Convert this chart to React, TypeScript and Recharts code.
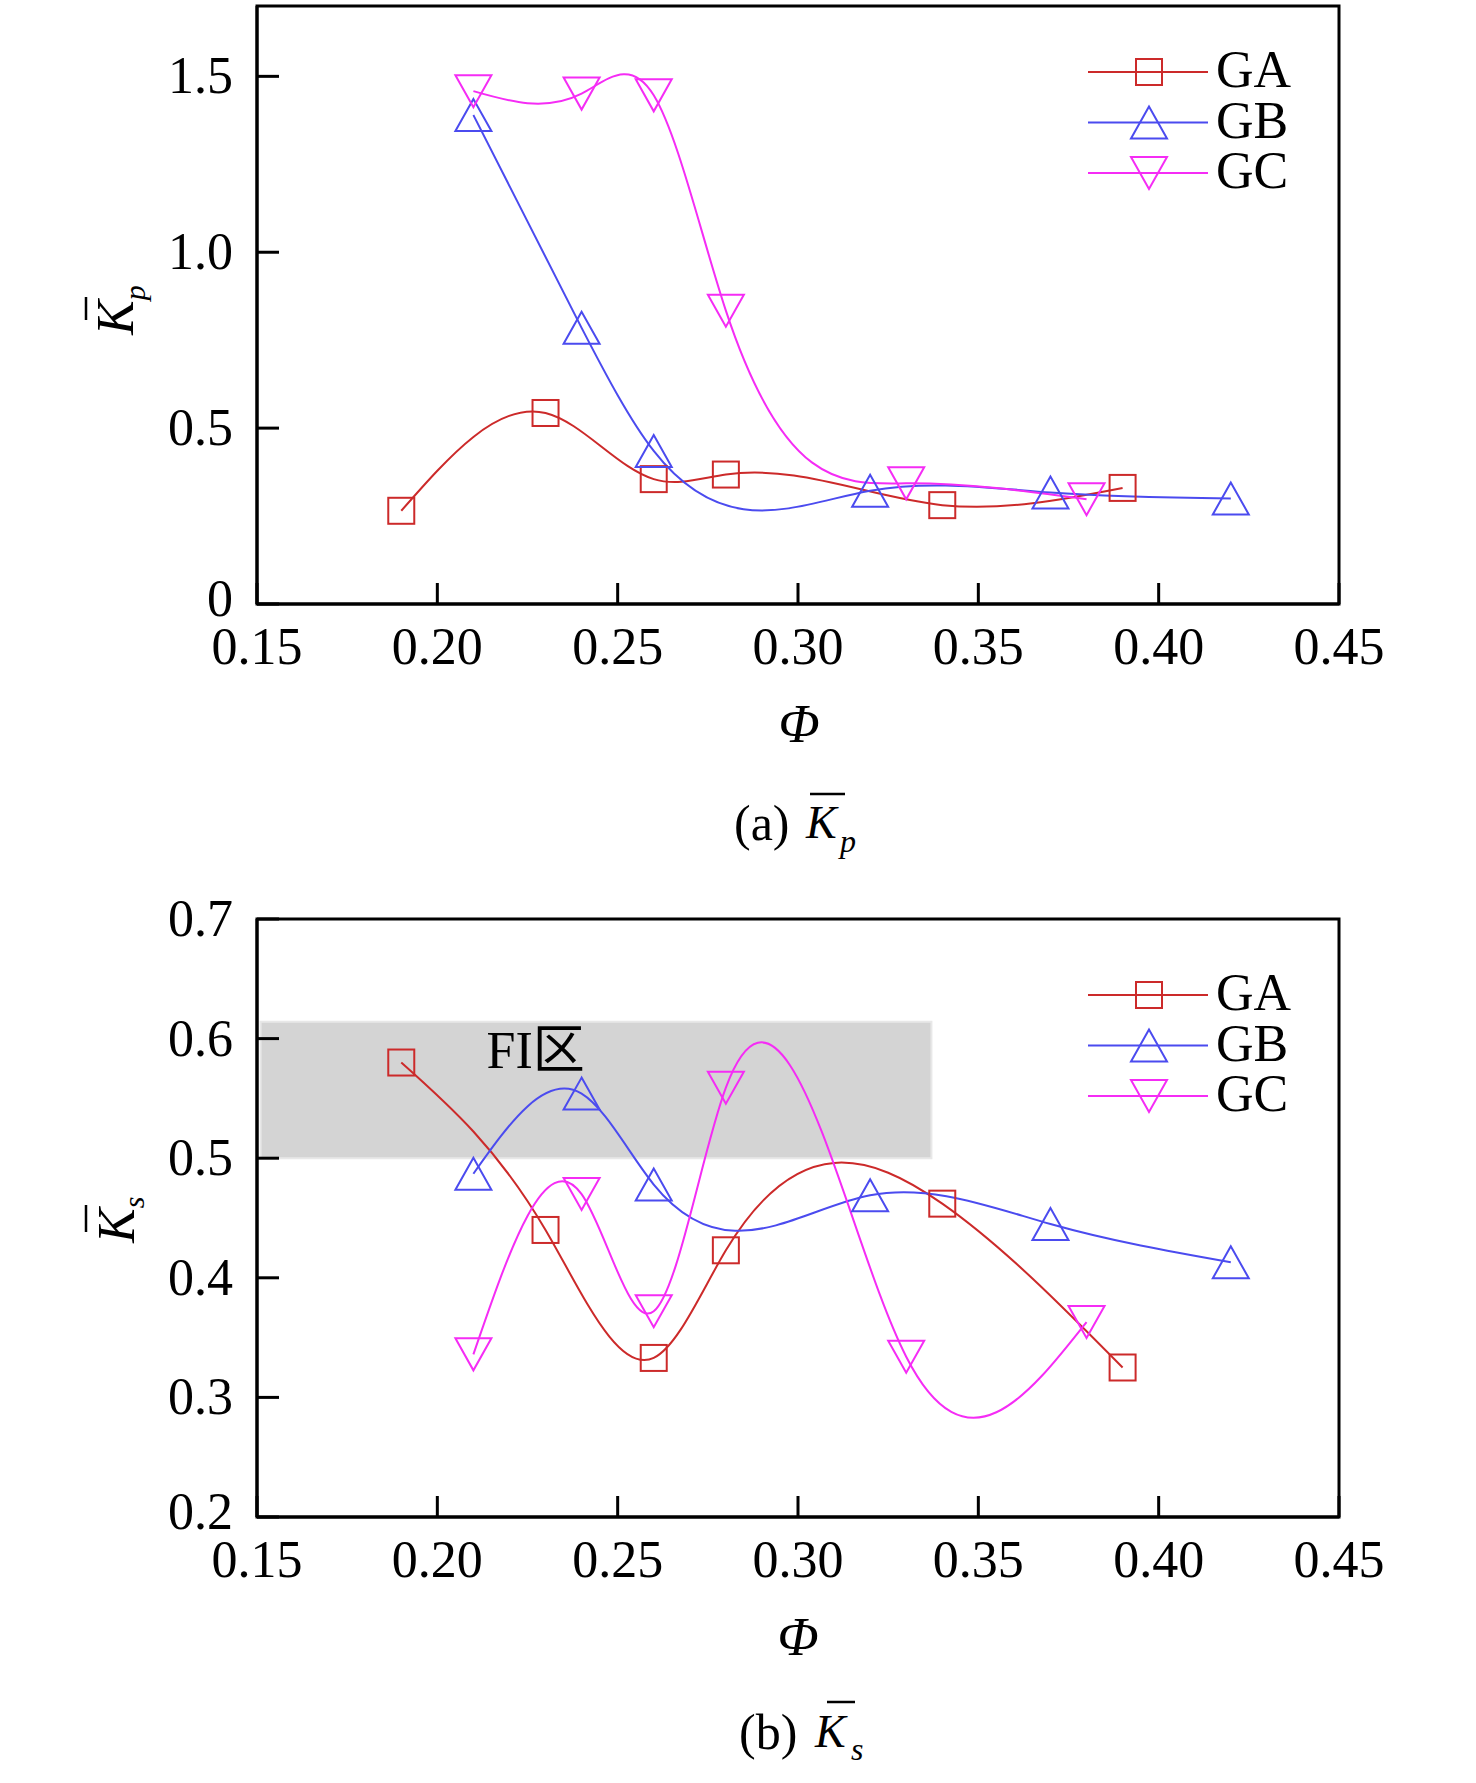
import { LineChart, Line, XAxis, YAxis, ReferenceArea, Legend } from 'recharts'

const FONT = '"Liberation Serif", "Times New Roman", "Noto Sans CJK SC", serif'

// tick values
const PHI_TICKS = [0.15, 0.2, 0.25, 0.3, 0.35, 0.4, 0.45]
const KP_TICKS = [0, 0.5, 1.0, 1.5]
const KS_TICKS = [0.2, 0.3, 0.4, 0.5, 0.6, 0.7]

// Φ values per group
const GA_PHI = [0.19, 0.23, 0.26, 0.28, 0.34, 0.39]
const GB_PHI = [0.21, 0.24, 0.26, 0.32, 0.37, 0.42]
const GC_PHI = [0.21, 0.24, 0.26, 0.28, 0.33, 0.38]

// (a) mean Kp
const GA_KP = [0.265, 0.543, 0.355, 0.368, 0.281, 0.33]
const GB_KP = [1.39, 0.785, 0.435, 0.322, 0.317, 0.3]
const GC_KP = [1.458, 1.451, 1.446, 0.834, 0.343, 0.298]

// (b) mean Ks
const GA_KS = [0.58, 0.44, 0.333, 0.423, 0.462, 0.325]
const GB_KS = [0.487, 0.554, 0.478, 0.469, 0.445, 0.413]
const GC_KS = [0.336, 0.47, 0.372, 0.559, 0.334, 0.363]

// FI zone
const FI_ZONE = { x1: 0.151, x2: 0.337, y1: 0.5, y2: 0.614 }

const SERIES = [
  { name: 'GA', color: '#cc2a2a', marker: 'square' },
  { name: 'GB', color: '#4b4bef', marker: 'up' },
  { name: 'GC', color: '#f52cf5', marker: 'down' },
]

const toPoints = (xs: number[], ys: number[]) => xs.map((x, i) => ({ x, y: ys[i] }))

// natural cubic spline y(x), drawn as bezier pieces (like the original plot's spline)
function splineX(context: any) {
  let xs: number[] = []
  let ys: number[] = []
  return {
    areaStart() {},
    areaEnd() {},
    lineStart() {
      xs = []
      ys = []
    },
    point(x: number, y: number) {
      xs.push(+x)
      ys.push(+y)
    },
    lineEnd() {
      const n = xs.length
      if (!n) return
      context.moveTo(xs[0], ys[0])
      if (n === 2) {
        context.lineTo(xs[1], ys[1])
        return
      }
      const h: number[] = []
      for (let i = 0; i < n - 1; i++) h.push(xs[i + 1] - xs[i])
      // tridiagonal solve for second derivatives, natural ends
      const m = new Array(n).fill(0)
      const a: number[] = [], b: number[] = [], c: number[] = [], r: number[] = []
      for (let i = 1; i < n - 1; i++) {
        a.push(h[i - 1])
        b.push(2 * (h[i - 1] + h[i]))
        c.push(h[i])
        r.push(6 * ((ys[i + 1] - ys[i]) / h[i] - (ys[i] - ys[i - 1]) / h[i - 1]))
      }
      const k = b.length
      for (let i = 1; i < k; i++) {
        const w = a[i] / b[i - 1]
        b[i] -= w * c[i - 1]
        r[i] -= w * r[i - 1]
      }
      for (let i = k - 1; i >= 0; i--) {
        m[i + 1] = (r[i] - (i < k - 1 ? c[i] * m[i + 2] : 0)) / b[i]
      }
      for (let i = 0; i < n - 1; i++) {
        const s = (ys[i + 1] - ys[i]) / h[i]
        const d0 = s - (h[i] * (2 * m[i] + m[i + 1])) / 6
        const d1 = s + (h[i] * (m[i] + 2 * m[i + 1])) / 6
        context.bezierCurveTo(
          xs[i] + h[i] / 3,
          ys[i] + (d0 * h[i]) / 3,
          xs[i + 1] - h[i] / 3,
          ys[i + 1] - (d1 * h[i]) / 3,
          xs[i + 1],
          ys[i + 1]
        )
      }
    },
  }
}

function Marker({ kind, cx, cy, color }: { kind: string; cx: number; cy: number; color: string }) {
  if (kind === 'square') {
    return <rect x={cx - 13} y={cy - 13} width={26} height={26} fill="none" stroke={color} strokeWidth={2} />
  }
  if (kind === 'up') {
    return (
      <polygon
        points={`${cx},${cy - 16} ${cx - 18},${cy + 16} ${cx + 18},${cy + 16}`}
        fill="none"
        stroke={color}
        strokeWidth={2}
      />
    )
  }
  return (
    <polygon
      points={`${cx - 18},${cy - 16} ${cx + 18},${cy - 16} ${cx},${cy + 16}`}
      fill="none"
      stroke={color}
      strokeWidth={2}
    />
  )
}

function XTick({ x, y, payload }: any) {
  return (
    <g>
      <line x1={x} y1={y} x2={x} y2={y - 21} stroke="#000" strokeWidth={3} />
      <text x={x} y={y + 60} textAnchor="middle" fontFamily={FONT} fontSize={52} fill="#000">
        {payload.value.toFixed(2)}
      </text>
    </g>
  )
}

function YTick({ x, y, payload, index }: any) {
  const v = payload.value
  // lowest label sits a little higher, as in the original
  const dy = index === 0 ? 12 : 17
  return (
    <g>
      <line x1={x} y1={y} x2={x + 22} y2={y} stroke="#000" strokeWidth={3} />
      <text x={x - 24} y={y + dy} textAnchor="end" fontFamily={FONT} fontSize={52} fill="#000">
        {v === 0 ? '0' : v.toFixed(1)}
      </text>
    </g>
  )
}

function LegendBox({ payload }: any) {
  return (
    <svg width={300} height={180} style={{ overflow: 'visible' }}>
      {(payload || []).map((entry: any, i: number) => {
        const s = SERIES.find((d) => d.name === entry.value) || SERIES[0]
        const cy = 25 + i * 50.5
        return (
          <g key={entry.value}>
            <line x1={0} x2={120} y1={cy} y2={cy} stroke={s.color} strokeWidth={2} />
            <Marker kind={s.marker} cx={61} cy={cy} color={s.color} />
            <text x={128} y={cy + 15} fontFamily={FONT} fontSize={52} fill="#000">
              {entry.value}
            </text>
          </g>
        )
      })}
    </svg>
  )
}

function Panel({
  height,
  marginTop,
  marginBottom,
  domain,
  ticks,
  values,
  legendTop,
  zone,
}: {
  height: number
  marginTop: number
  marginBottom: number
  domain: [number, number]
  ticks: number[]
  values: number[][]
  legendTop: number
  zone?: typeof FI_ZONE
}) {
  const xs = [GA_PHI, GB_PHI, GC_PHI]
  return (
    <LineChart
      width={1476}
      height={height}
      margin={{ top: marginTop, right: 137, left: 197, bottom: marginBottom }}
    >
      <XAxis
        type="number"
        dataKey="x"
        domain={[0.15, 0.45]}
        ticks={PHI_TICKS}
        interval={0}
        allowDataOverflow
        height={60}
        tickSize={0}
        tickMargin={0}
        tickLine={false}
        axisLine={{ stroke: '#000', strokeWidth: 3 }}
        tick={<XTick />}
      />
      <YAxis
        type="number"
        domain={domain}
        ticks={ticks}
        interval={0}
        allowDataOverflow
        width={60}
        tickSize={0}
        tickMargin={0}
        tickLine={false}
        axisLine={{ stroke: '#000', strokeWidth: 3 }}
        tick={<YTick />}
      />
      {zone && (
        <ReferenceArea
          x1={zone.x1}
          x2={zone.x2}
          y1={zone.y1}
          y2={zone.y2}
          fill="#d4d4d4"
          fillOpacity={1}
          stroke="#e8e8e8"
          strokeWidth={2}
          label={({ viewBox }: any) => (
            <text
              x={viewBox.x + 226}
              y={viewBox.y + 46}
              fontFamily={FONT}
              fontSize={52}
              fill="#000"
            >
              FI区
            </text>
          )}
        />
      )}
      {SERIES.map((s, i) => (
        <Line
          key={s.name}
          name={s.name}
          data={toPoints(xs[i], values[i])}
          dataKey="y"
          type={splineX as any}
          stroke={s.color}
          strokeWidth={2}
          isAnimationActive={false}
          activeDot={false}
          dot={(p: any) => <Marker key={p.index} kind={s.marker} cx={p.cx} cy={p.cy} color={s.color} />}
        />
      ))}
      <ReferenceArea
        x1={0.15}
        x2={0.45}
        y1={domain[0]}
        y2={domain[1]}
        fill="none"
        stroke="#000"
        strokeWidth={3}
      />
      <Legend
        layout="vertical"
        align="center"
        verticalAlign="middle"
        content={<LegendBox />}
        wrapperStyle={{ left: 1088, top: legendTop, width: 300, height: 180 }}
      />
    </LineChart>
  )
}

export default function App() {
  return (
    <div style={{ position: 'absolute', left: 0, top: 0, width: 1476, height: 1783, background: '#fff' }}>
      <div style={{ position: 'absolute', left: 0, top: 0 }}>
        <Panel
          height={880}
          marginTop={6}
          marginBottom={216}
          domain={[0, 1.7]}
          ticks={KP_TICKS}
          values={[GA_KP, GB_KP, GC_KP]}
          legendTop={47}
        />
      </div>
      <div style={{ position: 'absolute', left: 0, top: 880 }}>
        <Panel
          height={903}
          marginTop={39}
          marginBottom={206}
          domain={[0.2, 0.7]}
          ticks={KS_TICKS}
          values={[GA_KS, GB_KS, GC_KS]}
          legendTop={90}
          zone={FI_ZONE}
        />
      </div>
      <svg
        width={1476}
        height={1783}
        style={{ position: 'absolute', left: 0, top: 0, pointerEvents: 'none' }}
        fontFamily={FONT}
        fill="#000"
      >
        {/* y axis titles */}
        <text transform="translate(133,335) rotate(-90)" fontSize={52}>
          <tspan fontStyle="italic">K</tspan>
          <tspan fontStyle="italic" fontSize={30} dy={12}>p</tspan>
        </text>
        <line x1={86} x2={86} y1={297} y2={320} stroke="#000" strokeWidth={2.5} />
        <text transform="translate(134,1243) rotate(-90)" fontSize={52}>
          <tspan fontStyle="italic">K</tspan>
          <tspan fontStyle="italic" fontSize={30} dy={10}>s</tspan>
        </text>
        <line x1={86} x2={86} y1={1205} y2={1232} stroke="#000" strokeWidth={2.5} />

        {/* x axis titles */}
        <text x={799} y={742} textAnchor="middle" fontStyle="italic" fontSize={54}>Φ</text>
        <text x={798} y={1655} textAnchor="middle" fontStyle="italic" fontSize={54}>Φ</text>

        {/* captions */}
        <text x={734} y={840} fontSize={50}>(a)</text>
        <text x={806} y={838} fontSize={46} fontStyle="italic">K</text>
        <text x={840} y={852} fontSize={32} fontStyle="italic">p</text>
        <line x1={810} x2={845} y1={794} y2={794} stroke="#000" strokeWidth={2.5} />

        <text x={739} y={1749} fontSize={50}>(b)</text>
        <text x={815} y={1747} fontSize={46} fontStyle="italic">K</text>
        <text x={851} y={1760} fontSize={32} fontStyle="italic">s</text>
        <line x1={827} x2={855} y1={1702} y2={1702} stroke="#000" strokeWidth={2.5} />
      </svg>
    </div>
  )
}
